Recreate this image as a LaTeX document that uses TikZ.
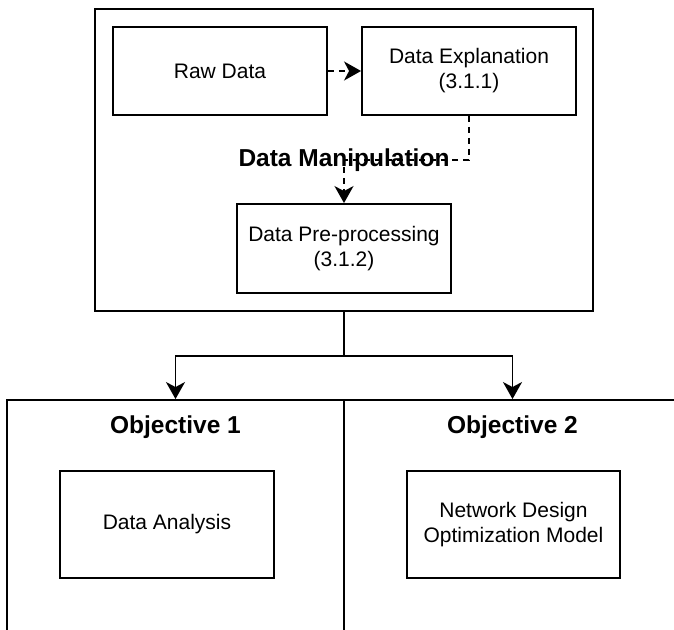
\documentclass[tikz,border=0pt]{standalone}
\usepackage{fontspec}
\setmainfont{Liberation Sans}
\usetikzlibrary{arrows.meta,calc}

\tikzset{
  box/.style={draw, line width=1.9pt, rectangle, inner sep=0pt, align=center,
    font=\fontsize{21}{25}\selectfont},
  title/.style={font=\fontsize{24.5}{28}\selectfont\bfseries, inner sep=0pt},
  link/.style={line width=1.9pt, -{Stealth[length=17pt, width=19pt, inset=5pt]}},
  dlink/.style={link, dash pattern=on 6pt off 5pt},
}

\begin{document}
\begin{tikzpicture}[x=1pt, y=-1pt]
  \useasboundingbox (0,0) rectangle (674,629);

  % data manipulation container and its steps
  \node[box, minimum width=498pt, minimum height=302pt] (top) at (344,160) {};
  \node[box, minimum width=214pt, minimum height=88pt] (raw) at (220,71) {Raw Data};
  \node[box, minimum width=214pt, minimum height=88pt] (expl) at (469,71) {Data Explanation\\(3.1.1)};
  \node[box, minimum width=214pt, minimum height=89pt] (pre) at (344,248.5) {Data Pre-processing\\(3.1.2)};
  \node[title] (lbl) at (344,160) {Data Manipulation};

  \draw[dlink] (raw.east) -- (expl.west);
  \draw[dlink] (expl.south) |- (lbl.center) -- (pre.north);

  % objective panels, running past the lower edge
  \begin{scope}
    \clip (0,0) rectangle (674,629);
    \node[box, minimum width=337pt, minimum height=260pt] (obj1) at (175.5,530) {};
    \node[box, minimum width=337pt, minimum height=260pt] (obj2) at (512.5,530) {};
  \end{scope}
  \node[title] (t1) at (175.5,427) {Objective 1};
  \node[title] (t2) at (512.5,427) {Objective 2};
  \node[box, minimum width=214pt, minimum height=107pt] (ana) at (167,524.5) {Data Analysis};
  \node[box, minimum width=213pt, minimum height=107pt] (net) at (513.5,524.5) {Network Design\\Optimization Model};

  % split from the container to both objectives
  \coordinate (split) at ($(top.south)+(0,44)$);
  \draw[link] (top.south) -- (split) -| (obj1.north);
  \draw[link] (split) -| (obj2.north);
\end{tikzpicture}
\end{document}
